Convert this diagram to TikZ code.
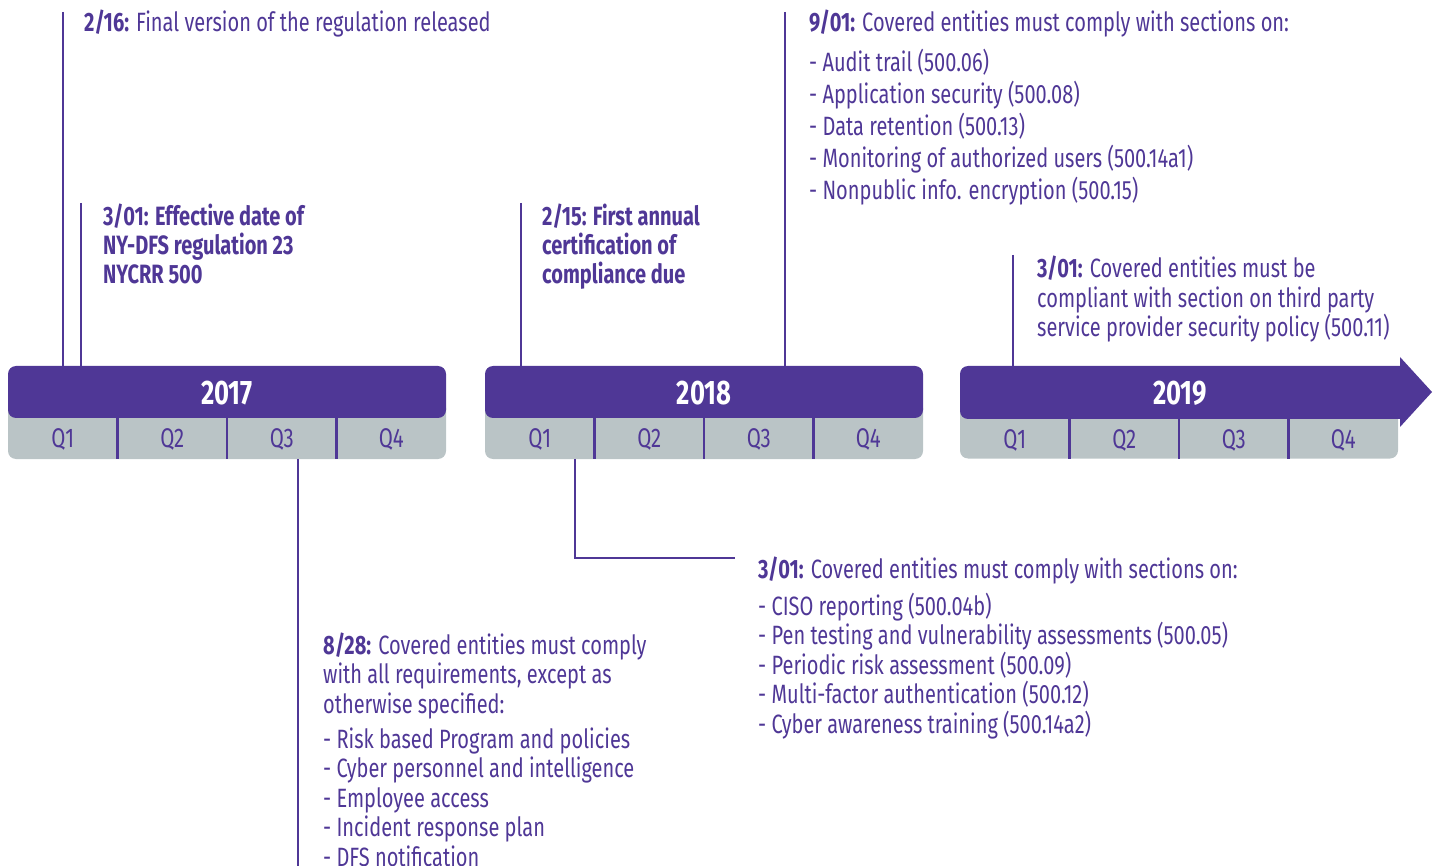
\documentclass[tikz,border=0pt]{standalone}
\usepackage{fontspec}
\setmainfont[FakeStretch=0.755]{Fira Sans}
\usetikzlibrary{calc}
\definecolor{tlpurple}{RGB}{79,55,150}
\definecolor{tlgrey}{RGB}{186,196,198}

\begin{document}
\begin{tikzpicture}[x=1pt,y=-1pt,
  tick/.style={draw=tlpurple, line width=2.8pt},
  divider/.style={draw=tlpurple, line width=2.4pt},
  yearbar/.style={fill=tlpurple, rounded corners=8pt, minimum width=438pt, minimum height=52pt, inner sep=0pt},
  quarterbar/.style={fill=tlgrey, rounded corners=8pt, minimum width=438pt, minimum height=59pt, inner sep=0pt},
  yearlbl/.style={text=white, font=\fontsize{34}{34}\selectfont\bfseries, inner sep=0pt},
  qlbl/.style={text=tlpurple, font=\fontsize{27}{27}\selectfont, inner sep=0pt},
  % multi-line notes are placed by the baseline of their last line
  note/.style={text=tlpurple, anchor=base west, align=left, inner sep=0pt, font=\fontsize{26.5}{29.5}\selectfont},
  boldnote/.style={note, font=\fontsize{26.5}{29}\selectfont\bfseries},
]
\useasboundingbox (0,0) rectangle (1438,866);

% ---- year bars ----
\foreach \yr/\cx in {2017/227, 2018/704} {
  \node[quarterbar] (q\yr) at (\cx,429.5) {};
  \node[yearbar] (bar\yr) at (\cx,392) {};
  \node[yearlbl] (lbl\yr) at (\cx,393) {\yr};
  \foreach \k in {1,2,3} {
    \draw[divider] ($(q\yr.west |- bar\yr.south)+(\k*109.5,0)$) -- ($(q\yr.south west)+(\k*109.5,0)$);
  }
  \foreach \k/\q in {0/Q1,1/Q2,2/Q3,3/Q4} {
    \node[qlbl] (q\yr-\k) at ($(q\yr.west)+(55+\k*109.5,10)$) {\q};
  }
}

% 2019 bar ending in an arrow head
\node[quarterbar] (q2019) at (1179,429) {};
\fill[tlpurple] [rounded corners=8pt] (960,392) -- (960,366) -- (1100,366) [sharp corners] -- (1400,366) -- (1400,357) -- (1432,392)
  -- (1400,427) -- (1400,419) -- (1100,419) [rounded corners=8pt] -- (960,419) -- cycle;
\coordinate (bar2019) at (1180,366);
\node[yearlbl] (lbl2019) at (1180,393) {2019};
\foreach \k in {1,2,3} {
  \draw[divider] ($(q2019.west |- lbl2019)+(\k*109.5,26)$) -- ($(q2019.south west)+(\k*109.5,0)$);
}
\foreach \k/\q in {0/Q1,1/Q2,2/Q3,3/Q4} {
  \node[qlbl] (q2019-\k) at ($(q2019.west)+(55+\k*109.5,11)$) {\q};
}

% ---- milestones above the bars ----
\node[note] (m216) at (84,32) {\textbf{2/16:} Final version of the regulation released};
\coordinate (t216) at (63,12);
\draw[tick] (t216) -- (t216 |- bar2017.north);

\node[boldnote] (m301a) at (103,284)
  {3/01: Effective date of\\NY-DFS regulation 23\\NYCRR 500};
\coordinate (t301a) at (81,203);
\draw[tick] (t301a) -- (t301a |- bar2017.north);

\node[boldnote] (m215) at (542,284)
  {2/15: First annual\\certification of\\compliance due};
\coordinate (t215) at (521,203);
\draw[tick] (t215) -- (t215 |- bar2018.north);

\node[note, font=\fontsize{26.5}{32}\selectfont] (m901) at (809,200)
  {\textbf{9/01:} Covered entities must comply with sections on:\\[8pt]
   - Audit trail (500.06)\\
   - Application security (500.08)\\
   - Data retention (500.13)\\
   - Monitoring of authorized users (500.14a1)\\
   - Nonpublic info. encryption (500.15)};
\coordinate (t901) at (785,12);
\draw[tick] (t901) -- (t901 |- bar2018.north);

\node[note] (m301c) at (1037,337)
  {\textbf{3/01:} Covered entities must be\\
   compliant with section on third party\\
   service provider security policy (500.11)};
\coordinate (t301c) at (1013,255);
\draw[tick] (t301c) -- (t301c |- bar2019);

% ---- milestones below the bars ----
\node[note] (m828) at (323,866)
  {\textbf{8/28:} Covered entities must comply\\
   with all requirements, except as\\
   otherwise specified:\\[5.5pt]
   - Risk based Program and policies\\
   - Cyber personnel and intelligence\\
   - Employee access\\
   - Incident response plan\\
   - DFS notification};
\coordinate (t828) at (298,880);
\draw[tick] (t828 |- q2017.south) -- (t828);

\node[note] (m301b) at (758,733)
  {\textbf{3/01:} Covered entities must comply with sections on:\\[7.5pt]
   - CISO reporting (500.04b)\\
   - Pen testing and vulnerability assessments (500.05)\\
   - Periodic risk assessment (500.09)\\
   - Multi-factor authentication (500.12)\\
   - Cyber awareness training (500.14a2)};
\coordinate (t301b) at (735,558);
\draw[tick] (575,0 |- q2018.south) -- (575,558) -- (t301b);
\end{tikzpicture}
\end{document}
